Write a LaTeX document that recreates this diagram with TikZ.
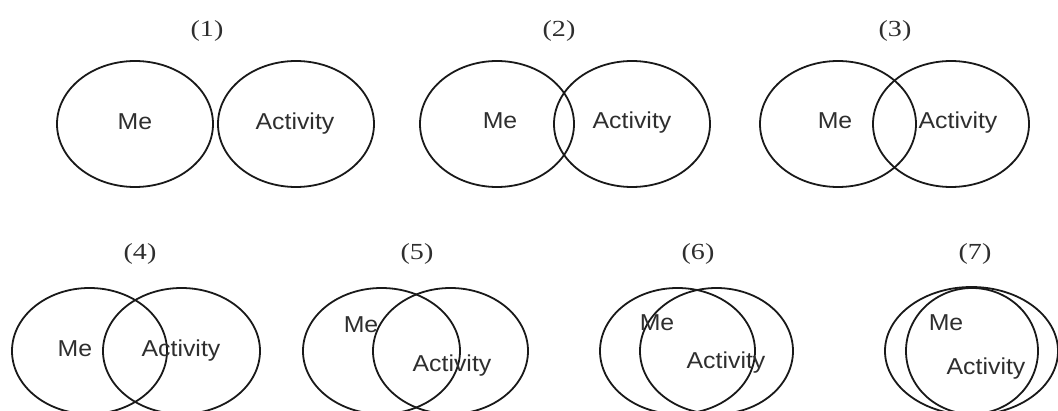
\documentclass[tikz,border=0pt]{standalone}
\usepackage{fontspec}
\setmainfont{Liberation Serif}
\setsansfont{Liberation Sans}
\begin{document}
\begin{tikzpicture}[x=1pt,y=-1pt,
  ring/.style={draw=black!90, line width=1.8pt},
  word/.style={font=\sffamily\fontsize{23}{26}\selectfont, text=black!82, anchor=base, inner sep=0pt, xscale=1.08},
  tag/.style={font=\rmfamily\fontsize{23}{26}\selectfont, text=black!82, anchor=base, inner sep=0pt, xscale=1.22}]
\useasboundingbox (0,0) rectangle (1058,411);
\begin{scope}
\clip (0,0) rectangle (1058,411);
% row 1
\draw[ring] (135,124) ellipse [x radius=78, y radius=63];
\draw[ring] (296,124) ellipse [x radius=78, y radius=63];
\draw[ring] (497,124) ellipse [x radius=77, y radius=63];
\draw[ring] (632,124) ellipse [x radius=78, y radius=63];
\draw[ring] (838,124) ellipse [x radius=78, y radius=63];
\draw[ring] (951,124) ellipse [x radius=78, y radius=63];
% row 2
\draw[ring] (89.5,351) ellipse [x radius=77.5, y radius=63];
\draw[ring] (181.5,351) ellipse [x radius=78.5, y radius=63];
\draw[ring] (381.5,351) ellipse [x radius=78.5, y radius=63];
\draw[ring] (450.5,351) ellipse [x radius=77.5, y radius=63];
\draw[ring] (677.5,351) ellipse [x radius=77.5, y radius=63];
\draw[ring] (716.5,351) ellipse [x radius=76.5, y radius=63];
\draw[ring] (971.5,351) ellipse [x radius=86.5, y radius=64];
\draw[ring] (972,351) ellipse [x radius=66, y radius=63];
\end{scope}
% labels
\node[tag] (l1) at (207,37) {(1)};
\node[tag] (l2) at (559,37) {(2)};
\node[tag] (l3) at (895,37) {(3)};
\node[tag] (l4) at (140,260) {(4)};
\node[tag] (l5) at (417,260) {(5)};
\node[tag] (l6) at (698,260) {(6)};
\node[tag] (l7) at (975,260) {(7)};
% words
\node[word] (m1) at (135,130) {Me};
\node[word] (a1) at (295,130) {Activity};
\node[word] (m2) at (500,129) {Me};
\node[word] (a2) at (632,129) {Activity};
\node[word] (m3) at (835,129) {Me};
\node[word] (a3) at (958,129) {Activity};
\node[word] (m4) at (75,357) {Me};
\node[word] (a4) at (181,357) {Activity};
\node[word] (m5) at (361,333) {Me};
\node[word] (a5) at (452,372) {Activity};
\node[word] (m6) at (657,331) {Me};
\node[word] (a6) at (726,369) {Activity};
\node[word] (m7) at (946,331) {Me};
\node[word] (a7) at (986,375) {Activity};
\end{tikzpicture}
\end{document}
